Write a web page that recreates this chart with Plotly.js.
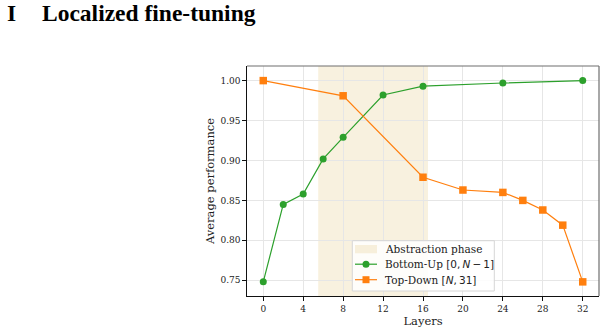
<!DOCTYPE html>
<html><head><meta charset="utf-8">
<script src="https://cdn.plot.ly/plotly-3.0.1.min.js"></script>
<style>html,body{margin:0;padding:0;background:#fff}#chart{width:606px;height:333px}</style>
</head><body><div id="chart"></div>
<script>
const layersBU = [0, 2, 4, 6, 8, 12, 16, 24, 32];
const perfBU = [0.748, 0.845, 0.858, 0.902, 0.929, 0.982, 0.993, 0.997, 1.000];
const layersTD = [0, 8, 16, 20, 24, 26, 28, 30, 32];
const perfTD = [1.000, 0.981, 0.879, 0.863, 0.860, 0.850, 0.838, 0.819, 0.748];
const phaseStart = 5.5, phaseEnd = 16.5;
const xTicks = [0, 4, 8, 12, 16, 20, 24, 28, 32];
const yTicks = [0.75, 0.80, 0.85, 0.90, 0.95, 1.00];
const mathSpan = s => '<span style="font-family:DejaVu Sans">' + s + '</span>';
const names = ["Abstraction phase",
  "Bottom-Up " + mathSpan("[0,\u2009<i>N</i>\u2009\u2212\u20091]"),
  "Top-Down " + mathSpan("[<i>N</i>,\u200931]")];

const serif = "DejaVu Serif";
const green = '#2ca02c', orange = '#ff7f0e', phaseFill = 'rgba(222,190,110,0.22)';
const traces = [
  {x:layersBU, y:perfBU, type:'scatter', mode:'lines+markers', name:names[1],
   line:{color:green, width:1.2}, marker:{color:green, size:7, symbol:'circle'}},
  {x:layersTD, y:perfTD, type:'scatter', mode:'lines+markers', name:names[2],
   line:{color:orange, width:1.2}, marker:{color:orange, size:7.5, symbol:'square'}}
];

// plot area in pixels
const L = 247, R = 599, T = 66, B = 296;
const px = v => (v - L) / (R - L);
const py = v => (B - v) / (B - T);

// manual legend (matplotlib-like)
const legBox = {x0:352.3, x1:494.3, y0:240.7, y1:291};
const rowY = [249, 264.2, 279.7];
const swX0 = 355, swX1 = 377, swMid = 366, textX = 383.5;
const ms = 3.5;

const shapes = [
  {type:'rect', xref:'x', yref:'paper', x0:phaseStart, x1:phaseEnd, y0:0, y1:1,
   fillcolor:phaseFill, line:{width:0}, layer:'between'},
  {type:'line', xref:'paper', yref:'paper', x0:0, x1:1, y0:1, y1:1, line:{color:'#6e6e6e', width:1.2}},
  {type:'line', xref:'paper', yref:'paper', x0:1, x1:1, y0:0, y1:1, line:{color:'#6e6e6e', width:1.2}},
  {type:'rect', xref:'paper', yref:'paper', x0:px(legBox.x0), x1:px(legBox.x1), y0:py(legBox.y1), y1:py(legBox.y0),
   fillcolor:'rgba(255,255,255,0.85)', line:{color:'#d6d6d6', width:1}, layer:'above'},
  {type:'rect', xref:'paper', yref:'paper', x0:px(swX0), x1:px(swX1), y0:py(253.3), y1:py(245),
   fillcolor:phaseFill, line:{width:0}, layer:'above'},
  {type:'line', xref:'paper', yref:'paper', x0:px(swX0), x1:px(swX1), y0:py(rowY[1]), y1:py(rowY[1]),
   line:{color:green, width:1.2}, layer:'above'},
  {type:'circle', xref:'paper', yref:'paper', x0:px(swMid-ms), x1:px(swMid+ms), y0:py(rowY[1]+ms), y1:py(rowY[1]-ms),
   fillcolor:green, line:{width:0}, layer:'above'},
  {type:'line', xref:'paper', yref:'paper', x0:px(swX0), x1:px(swX1), y0:py(rowY[2]), y1:py(rowY[2]),
   line:{color:orange, width:1.2}, layer:'above'},
  {type:'rect', xref:'paper', yref:'paper', x0:px(swMid-ms), x1:px(swMid+ms), y0:py(rowY[2]+ms), y1:py(rowY[2]-ms),
   fillcolor:orange, line:{width:0}, layer:'above'}
];

const annotations = [
  {text:'<b>I</b>', xref:'paper', yref:'paper', x:px(5.5), y:py(-1), xanchor:'left', yanchor:'top',
   showarrow:false, borderpad:0, font:{family:'Liberation Serif', size:23.5, color:'#000'}},
  {text:'<b>Localized fine-tuning</b>', xref:'paper', yref:'paper', x:px(41.5), y:py(-1), xanchor:'left', yanchor:'top',
   showarrow:false, borderpad:0, font:{family:'Liberation Serif', size:23.5, color:'#000'}}
];
names.forEach((n, i) => annotations.push({text:n, xref:'paper', yref:'paper', x:px(textX), y:py(rowY[i]),
  xanchor:'left', yanchor:'middle', showarrow:false, borderpad:0, font:{family:serif, size:10.5, color:'#222'}}));

const layout = {
  width:606, height:333,
  margin:{l:L, r:606-R, t:T, b:333-B},
  paper_bgcolor:'#fff', plot_bgcolor:'#fff',
  font:{family:serif, size:9, color:'#222'},
  showlegend:false,
  xaxis:{range:[-1.63, 33.63], tickvals:xTicks, ticktext:xTicks.map(String),
    showgrid:true, gridcolor:'#e6e6e6', gridwidth:1, zeroline:false,
    showline:true, linecolor:'#111', linewidth:1.2,
    ticks:'outside', ticklen:3.5, tickcolor:'#111', tickwidth:1,
    title:{text:'Layers', font:{family:serif, size:11.5, color:'#222'}, standoff:4}},
  yaxis:{range:[0.7303, 1.0183], tickvals:yTicks, ticktext:yTicks.map(v=>v.toFixed(2)),
    showgrid:true, gridcolor:'#e6e6e6', gridwidth:1, zeroline:false,
    showline:true, linecolor:'#111', linewidth:1.2,
    ticks:'outside', ticklen:3.5, tickcolor:'#111', tickwidth:1,
    title:{text:'Average performance', font:{family:serif, size:11.5, color:'#222'}, standoff:3}},
  shapes:shapes,
  annotations:annotations
};
Plotly.newPlot('chart', traces, layout, {staticPlot:true, displayModeBar:false});
</script></body></html>
